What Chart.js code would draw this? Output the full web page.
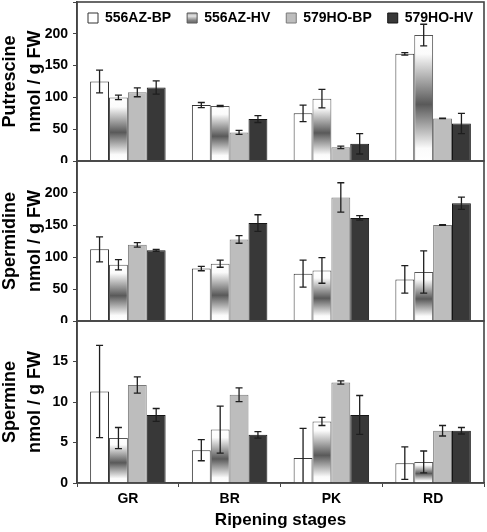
<!DOCTYPE html>
<html lang="en">
<head>
  <meta charset="UTF-8">
  <title>Polyamines by ripening stage</title>
  <script src="https://cdn.jsdelivr.net/npm/chart.js"></script>
  <style>
    body { margin: 0; background: #fff; }
    #wrap { position: relative; width: 487px; height: 532px; }
    #wrap canvas { position: absolute; left: 0; }
  </style>
</head>
<body>
<div id="wrap">
  <canvas id="chartPut" width="487" height="163" style="top:0px"></canvas>
  <canvas id="chartSpd" width="487" height="163" style="top:160px"></canvas>
  <canvas id="chartSpm" width="487" height="212" style="top:320px"></canvas>
</div>

<script>
  const stages = ['GR', 'BR', 'PK', 'RD'];
  const seriesNames = ['556AZ-BP', '556AZ-HV', '579HO-BP', '579HO-HV'];

  // Putrescine (nmol / g FW)
  const putAzBP = [125, 88, 75, 168.5];
  const putAzBPErr = [18, 4, 13, 2];
  const putAzHV = [100, 86.5, 98, 198];
  const putAzHVErr = [3.5, 1, 14.5, 17];
  const putHoBP = [108, 45, 21.5, 67];
  const putHoBPErr = [7, 3, 2, 0.5];
  const putHoHV = [115.5, 66, 27, 59];
  const putHoHVErr = [10.5, 5.5, 16, 16];

  // Spermidine (nmol / g FW)
  const spdAzBP = [112, 82, 74, 65];
  const spdAzBPErr = [19.5, 3.5, 21, 21.5];
  const spdAzHV = [88, 89.5, 79, 76.5];
  const spdAzHVErr = [8, 5.5, 20, 33];
  const spdHoBP = [119, 127.5, 193, 150];
  const spdHoBPErr = [3.5, 6, 23, 0.5];
  const spdHoHV = [110.5, 153, 161, 184];
  const spdHoHVErr = [1.5, 13, 3.5, 9.5];

  // Spermine (nmol / g FW)
  const spmAzBP = [11.3, 4.05, 3.1, 2.45];
  const spmAzBPErr = [5.7, 1.3, 3.65, 2.0];
  const spmAzHV = [5.55, 6.6, 7.6, 2.6];
  const spmAzHVErr = [1.3, 2.9, 0.5, 1.35];
  const spmHoBP = [12.1, 10.9, 12.4, 6.45];
  const spmHoBPErr = [1.0, 0.85, 0.2, 0.65];
  const spmHoHV = [8.4, 5.95, 8.4, 6.45];
  const spmHoHVErr = [0.8, 0.4, 2.4, 0.4];

  const FONT = 'Arial, "Liberation Sans", sans-serif';
  Chart.defaults.font.family = FONT;
  Chart.defaults.font.weight = 'bold';
  Chart.defaults.color = '#000';

  const lineCol = '#444';

  // white -> dark -> white shading inside each HV bar
  function hvFill(c) {
    if (c.type !== 'data' || !c.chart.scales.y) return '#8a8a8a';
    const y = c.chart.scales.y;
    const top = y.getPixelForValue(c.raw);
    const base = y.getPixelForValue(0);
    if (!isFinite(top) || !isFinite(base) || base - top < 1) return '#8a8a8a';
    const g = c.chart.ctx.createLinearGradient(0, top, 0, base);
    g.addColorStop(0, '#ffffff');
    g.addColorStop(0.15, '#fbfbfb');
    g.addColorStop(0.55, '#595959');
    g.addColorStop(0.9, '#fbfbfb');
    g.addColorStop(1, '#ffffff');
    return g;
  }

  const errorBars = {
    id: 'errorBars',
    afterDatasetsDraw(chart) {
      const ctx = chart.ctx;
      const y = chart.scales.y;
      const area = chart.chartArea;
      ctx.save();
      ctx.beginPath();
      ctx.rect(area.left, area.top - 1, area.right - area.left, area.bottom - area.top + 1);
      ctx.clip();
      ctx.strokeStyle = '#1e1e1e';
      ctx.lineWidth = 1.3;
      chart.data.datasets.forEach((ds, i) => {
        const meta = chart.getDatasetMeta(i);
        meta.data.forEach((bar, j) => {
          const v = ds.data[j];
          const e = ds.errors[j];
          const yHi = y.getPixelForValue(v + e);
          const yLo = y.getPixelForValue(Math.max(0, v - e));
          ctx.beginPath();
          ctx.moveTo(bar.x, yHi);
          ctx.lineTo(bar.x, yLo);
          ctx.moveTo(bar.x - 3.5, yHi);
          ctx.lineTo(bar.x + 3.5, yHi);
          if (v - e > 0) {
            ctx.moveTo(bar.x - 3.5, yLo);
            ctx.lineTo(bar.x + 3.5, yLo);
          }
          ctx.stroke();
        });
      });
      ctx.restore();
    }
  };

  const frame = {
    id: 'frame',
    afterDraw(chart) {
      const a = chart.chartArea;
      const ctx = chart.ctx;
      ctx.save();
      ctx.strokeStyle = lineCol;
      ctx.lineWidth = 1.6;
      ctx.strokeRect(a.left, a.top, a.right - a.left, a.bottom - a.top);
      ctx.restore();
    }
  };

  // legend is drawn inside the plot, so it must not take layout space
  const legendInside = {
    id: 'legendInside',
    beforeLayout(chart) {
      const lg = chart.legend;
      if (lg && !lg._inside) {
        const fit = lg.fit;
        lg.fit = function () { fit.call(this); this.height = 0; };
        lg._inside = true;
      }
    },
    afterLayout(chart) {
      const lg = chart.legend;
      if (!lg || !lg.options.display) return;
      const a = chart.chartArea;
      lg.maxWidth = chart.width + 60;
      lg.fit();
      lg.left = a.left - 5;
      lg.right = chart.width + 40;
      lg.width = lg.right - lg.left;
      lg.top = a.top - 7;
      lg.height = 34;
      lg.bottom = lg.top + lg.height;
    }
  };

  function makeDatasets(vals, errs) {
    const fills = ['#ffffff', hvFill, '#bdbdbd', '#383838'];
    const borders = ['#333333', '#555555', '#7a7a7a', '#151515'];
    return vals.map((v, i) => ({
      label: seriesNames[i],
      data: v,
      errors: errs[i],
      backgroundColor: fills[i],
      borderColor: borders[i],
      borderWidth: 1,
      borderSkipped: 'bottom',
      categoryPercentage: 0.742,
      barPercentage: 1.0
    }));
  }

  function createChart(id, opts) {
    const ctx = document.getElementById(id).getContext('2d');
    const showX = !!opts.showX;
    return new Chart(ctx, {
      type: 'bar',
      data: {
        labels: stages,
        datasets: makeDatasets(opts.values, opts.errors)
      },
      options: {
        responsive: false,
        animation: false,
        events: [],
        layout: { padding: { left: 0, right: 3, top: opts.padTop, bottom: showX ? 0 : 2 } },
        scales: {
          x: {
            display: showX,
            offset: true,
            grid: { display: true, drawOnChartArea: false, drawTicks: true, tickLength: 4, color: lineCol, offset: true },
            border: { display: true, color: lineCol, width: 1.6 },
            ticks: { padding: 4, font: { size: 14, weight: 'bold' }, color: '#000' },
            title: {
              display: showX,
              text: 'Ripening stages',
              font: { size: 17, weight: 'bold', lineHeight: 1.15 },
              padding: { top: 0, bottom: 2 },
              color: '#000'
            },
            afterFit(scale) {
              if (showX) scale.height = 49;
              scale.paddingLeft = 0;
              scale.paddingRight = 0;
            }
          },
          y: {
            min: 0,
            max: opts.max,
            ticks: {
              stepSize: opts.step,
              padding: 5,
              font: { size: 14, weight: 'bold' },
              color: '#000',
              callback: (v) => (v === opts.max ? '' : v)
            },
            grid: { drawOnChartArea: false, drawTicks: true, tickLength: 4, tickColor: lineCol },
            border: { display: true, color: lineCol, width: 1.6 },
            title: {
              display: true,
              text: opts.title,
              font: { size: 18, weight: 'bold', lineHeight: 1.37 },
              padding: { top: -2, bottom: 0 },
              color: '#000'
            },
            afterFit(scale) {
              scale.width = 77;
              scale.paddingTop = 0;
              scale.paddingBottom = 0;
            }
          }
        },
        plugins: {
          tooltip: { enabled: false },
          legend: {
            display: !!opts.legend,
            position: 'top',
            fullSize: false,
            align: 'start',
            labels: {
              boxWidth: 10,
              boxHeight: 10,
              padding: 16,
              color: '#000',
              font: { size: 14, weight: 'bold' },
              generateLabels(chart) {
                const items = Chart.defaults.plugins.legend.labels.generateLabels(chart);
                items.forEach((it, i) => {
                  it.lineWidth = 1;
                  if (i === 1) {
                    const g = chart.ctx.createLinearGradient(0, 11, 0, 21);
                    g.addColorStop(0, '#777777');
                    g.addColorStop(0.5, '#e6e6e6');
                    g.addColorStop(1, '#777777');
                    it.fillStyle = g;
                  }
                });
                return items;
              }
            }
          }
        }
      },
      plugins: [legendInside, errorBars, frame]
    });
  }

  createChart('chartPut', {
    title: ['Putrescine', 'nmol / g FW'],
    max: 250, step: 50, padTop: 2, legend: true,
    values: [putAzBP, putAzHV, putHoBP, putHoHV],
    errors: [putAzBPErr, putAzHVErr, putHoBPErr, putHoHVErr]
  });

  createChart('chartSpd', {
    title: ['Spermidine', 'nmol / g FW'],
    max: 250, step: 50, padTop: 1,
    values: [spdAzBP, spdAzHV, spdHoBP, spdHoHV],
    errors: [spdAzBPErr, spdAzHVErr, spdHoBPErr, spdHoHVErr]
  });

  createChart('chartSpm', {
    title: ['Spermine', 'nmol / g FW'],
    max: 20, step: 5, padTop: 1, showX: true,
    values: [spmAzBP, spmAzHV, spmHoBP, spmHoHV],
    errors: [spmAzBPErr, spmAzHVErr, spmHoBPErr, spmHoHVErr]
  });
</script>
</body>
</html>
